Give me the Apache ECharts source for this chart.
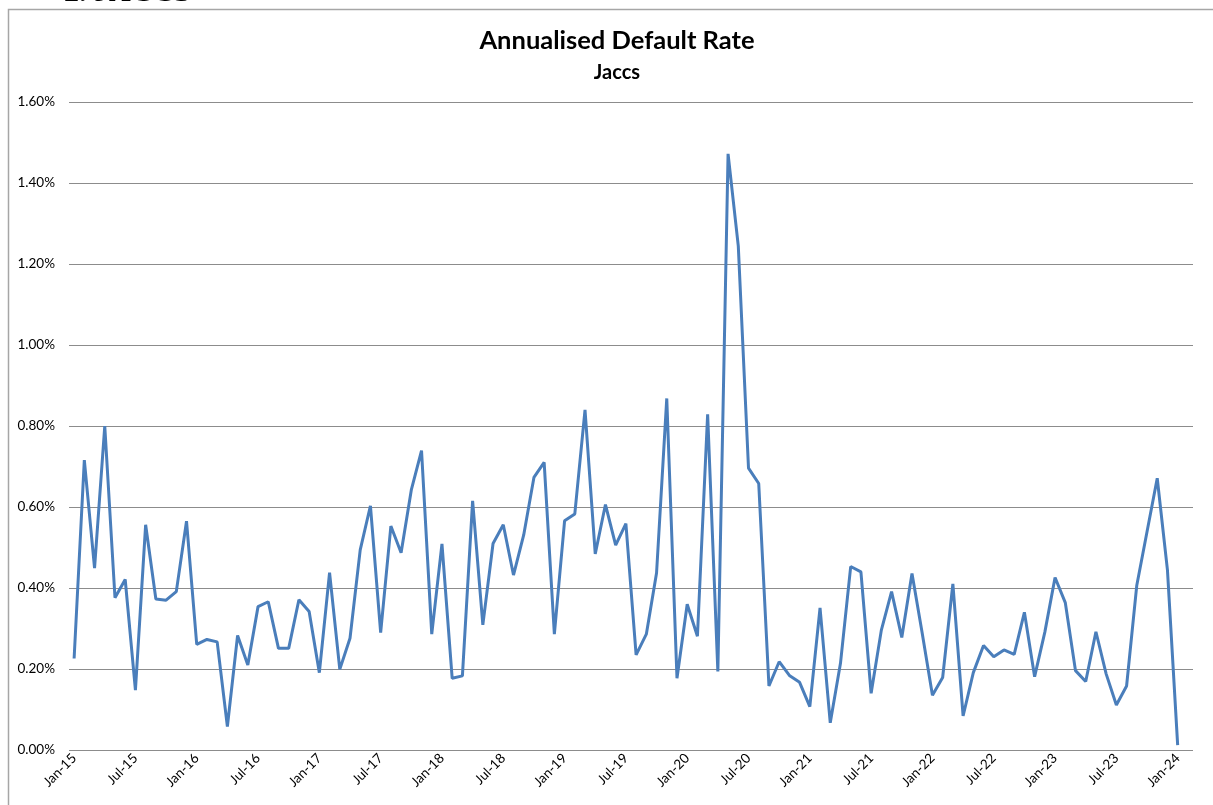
<!DOCTYPE html>
<html>
<head>
<meta charset="utf-8">
<script src="https://cdn.jsdelivr.net/npm/echarts@6/dist/echarts.min.js"></script>
<style>
html,body{margin:0;padding:0;background:#fff;}
#chart{width:1213px;height:805px;}
</style>
</head>
<body>
<div id="chart"></div>
<script>
// Tick label pieces
var monthNames = ['Jan','Feb','Mar','Apr','May','Jun','Jul','Aug','Sep','Oct','Nov','Dec'];
var yearLabels = ['15','16','17','18','19','20','21','22','23','24'];

// Annualised default rate (%), monthly Jan-15 .. Jan-24
var rates2015 = [0.226, 0.716, 0.449, 0.800, 0.376, 0.421, 0.148, 0.556, 0.373, 0.370, 0.391, 0.565];
var rates2016 = [0.261, 0.273, 0.267, 0.058, 0.283, 0.210, 0.354, 0.366, 0.251, 0.251, 0.371, 0.342];
var rates2017 = [0.191, 0.438, 0.199, 0.276, 0.494, 0.603, 0.290, 0.553, 0.487, 0.642, 0.739, 0.286];
var rates2018 = [0.509, 0.177, 0.183, 0.615, 0.309, 0.510, 0.556, 0.432, 0.531, 0.673, 0.710, 0.286];
var rates2019 = [0.566, 0.583, 0.840, 0.484, 0.606, 0.506, 0.559, 0.235, 0.286, 0.437, 0.868, 0.177];
var rates2020 = [0.360, 0.281, 0.829, 0.194, 1.472, 1.244, 0.696, 0.658, 0.158, 0.218, 0.184, 0.167];
var rates2021 = [0.107, 0.351, 0.067, 0.214, 0.453, 0.440, 0.140, 0.296, 0.391, 0.278, 0.436, 0.288];
var rates2022 = [0.135, 0.179, 0.410, 0.084, 0.191, 0.258, 0.230, 0.247, 0.236, 0.340, 0.181, 0.291];
var rates2023 = [0.426, 0.364, 0.196, 0.169, 0.292, 0.188, 0.111, 0.158, 0.407, 0.539, 0.671, 0.444];
var rates2024 = [0.012];

var yTicks = [0, 0.2, 0.4, 0.6, 0.8, 1.0, 1.2, 1.4, 1.6];

var rates = [].concat(rates2015, rates2016, rates2017, rates2018, rates2019,
                      rates2020, rates2021, rates2022, rates2023, rates2024);

// categories Jan-15 .. Feb-24 (axis runs one slot past the last point)
var categories = [];
yearLabels.forEach(function (y) {
  monthNames.forEach(function (m) {
    if (categories.length < 110) categories.push(m + '-' + y);
  });
});

var FONT = 'Lato, "Open Sans", sans-serif';
var chart = echarts.init(document.getElementById('chart'), null, {renderer: 'canvas'});
chart.setOption({
  animation: false,
  backgroundColor: '#ffffff',
  title: [
    {text: 'Annualised Default Rate', left: 612, top: 23, textAlign: 'center',
     textStyle: {fontFamily: FONT, fontWeight: 'bold', fontSize: 25.5, color: '#000'}},
    {text: 'Jaccs', left: 612, top: 58, textAlign: 'center',
     textStyle: {fontFamily: FONT, fontWeight: 'bold', fontSize: 20, color: '#000'}}
  ],
  graphic: [
    {type: 'rect', silent: true, z: -1,
     shape: {x: 8.5, y: 9.5, width: 1300, height: 900},
     style: {fill: 'none', stroke: '#a6a6a6', lineWidth: 1.5}},
    {type: 'text', silent: true, z: 10, x: 64, y: 8,
     style: {text: '2. JACCS', fontSize: 30, fontWeight: 'bold',
             fontFamily: '"Liberation Serif", serif', fill: '#000',
             align: 'left', verticalAlign: 'bottom'}}
  ],
  grid: {left: 69, right: 20, top: 102, bottom: 55, containLabel: false},
  xAxis: {
    type: 'category',
    data: categories,
    boundaryGap: true,
    axisLine: {show: false},
    axisTick: {show: false},
    splitLine: {show: false},
    axisLabel: {
      interval: 5,
      rotate: 45,
      margin: 6,
      fontFamily: FONT,
      fontSize: 13.5,
      color: '#000'
    }
  },
  yAxis: {
    type: 'value',
    min: yTicks[0],
    max: yTicks[yTicks.length - 1],
    interval: 0.2,
    axisLine: {show: false},
    axisTick: {show: false},
    splitLine: {show: true, lineStyle: {color: '#8c8c8c', width: 1}},
    axisLabel: {
      margin: 14,
      fontFamily: FONT,
      fontSize: 13.5,
      color: '#000',
      formatter: function (v) { return v.toFixed(2) + '%'; }
    }
  },
  series: [{
    type: 'line',
    data: rates,
    showSymbol: false,
    symbol: 'none',
    lineStyle: {color: '#4a7ebb', width: 3},
    itemStyle: {color: '#4a7ebb'}
  }]
});
</script>
</body>
</html>
